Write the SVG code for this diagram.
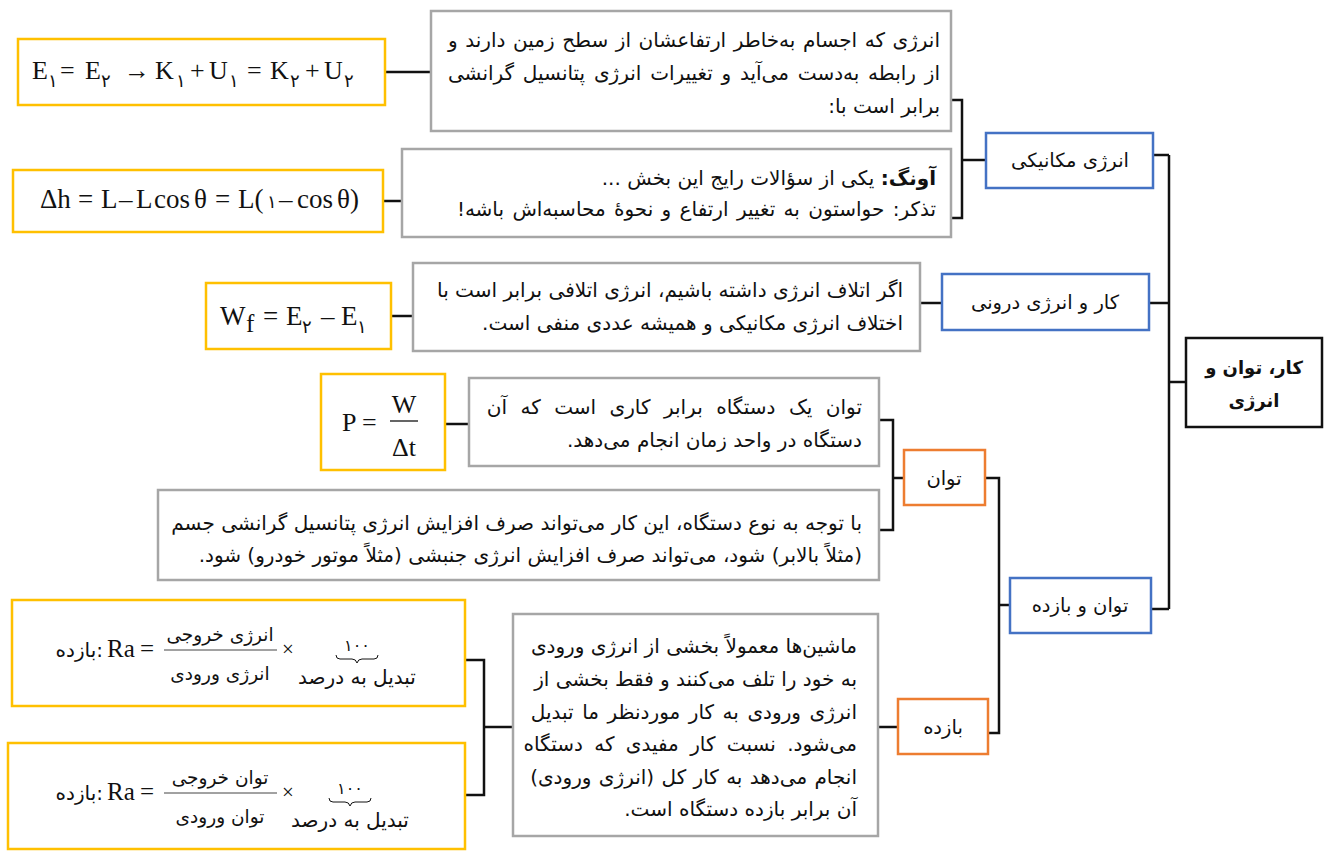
<svg xmlns="http://www.w3.org/2000/svg" width="1327" height="851" viewBox="0 0 1327 851">
<style>
.bg{fill:#fff}
.gray{fill:#fff;stroke:#a6a6a6;stroke-width:2.5}
.yel{fill:#fff;stroke:#ffc000;stroke-width:2.5}
.blue{fill:#fff;stroke:#4472c4;stroke-width:2.5}
.org{fill:#fff;stroke:#ed7d31;stroke-width:2.5}
.blk{fill:#fff;stroke:#111;stroke-width:2.5}
.fa{font-family:"DejaVu Sans",sans-serif;font-size:20px;fill:#111;direction:rtl}
.lab{font-family:"DejaVu Sans",sans-serif;font-size:19.5px;fill:#111;direction:rtl;text-anchor:middle}
.m{font-family:"Liberation Serif","Times New Roman",serif;font-size:26px;fill:#111}
.sub{font-family:"DejaVu Sans",sans-serif;font-size:18px;fill:#111}
.fr{font-family:"DejaVu Sans",sans-serif;font-size:18.5px;fill:#111;direction:rtl;text-anchor:middle}
#connectors path{fill:none;stroke:#111;stroke-width:2.5}
</style>
<rect class="bg" x="0" y="0" width="1327" height="851"/>

<g id="connectors">
<path d="M1169,155 V609"/>
<path d="M1153,155 H1169"/>
<path d="M1149,303 H1169"/>
<path d="M1186,382 H1169"/>
<path d="M1151,609 H1169"/>
<path d="M951,100 H962 V218 H951"/>
<path d="M962,160 H986"/>
<path d="M385,72 H431"/>
<path d="M383,201 H402"/>
<path d="M920,303 H942"/>
<path d="M391,316 H413"/>
<path d="M445,424 H469"/>
<path d="M879,420 H893 V530 H879"/>
<path d="M893,478 H904"/>
<path d="M985,478 H999 V733 H988"/>
<path d="M999,605 H1010"/>
<path d="M465,660 H484 V795 H465"/>
<path d="M484,727 H513"/>
<path d="M878,727 H898"/>
</g>

<g id="root">
<rect class="blk" x="1186" y="338" width="136" height="89"/>
<text class="lab" x="1254" y="374" style="font-weight:bold;font-size:18px">کار، توان و</text>
<text class="lab" x="1254" y="407" style="font-weight:bold;font-size:18px">انرژی</text>
</g>

<g id="mech">
<rect class="blue" x="986" y="133" width="167" height="55"/>
<text class="lab" x="1070" y="167">انرژی مکانیکی</text>
</g>

<g id="internal">
<rect class="blue" x="942" y="274" width="207" height="56"/>
<text class="lab" x="1045" y="309">کار و انرژی درونی</text>
</g>

<g id="power-eff">
<rect class="blue" x="1010" y="578" width="141" height="55"/>
<text class="lab" x="1080" y="612">توان و بازده</text>
</g>

<g id="power">
<rect class="org" x="904" y="450" width="81" height="55"/>
<text class="lab" x="944" y="485">توان</text>
</g>

<g id="eff">
<rect class="org" x="898" y="699" width="90" height="55"/>
<text class="lab" x="943" y="734">بازده</text>
</g>

<g id="text1">
<rect class="gray" x="431" y="11" width="520" height="120"/>
<text class="fa" x="940" y="47" word-spacing="1.2">انرژی که اجسام به‌خاطر ارتفاعشان از سطح زمین دارند و</text>
<text class="fa" x="940" y="80" word-spacing="2.4">از رابطه به‌دست می‌آید و تغییرات انرژی پتانسیل گرانشی</text>
<text class="fa" x="940" y="113">برابر است با:</text>
</g>

<g id="text2">
<rect class="gray" x="402" y="149" width="549" height="88"/>
<text class="fa" x="936" y="185"><tspan font-weight="bold">آونگ:</tspan> یکی از سؤالات رایج این بخش ...</text>
<text class="fa" x="936" y="216" word-spacing="2">تذکر: حواستون به تغییر ارتفاع و نحوهٔ محاسبه‌اش باشه!</text>
</g>

<g id="text3">
<rect class="gray" x="413" y="263" width="507" height="88"/>
<text class="fa" x="903" y="297">اگر اتلاف انرژی داشته باشیم، انرژی اتلافی برابر است با</text>
<text class="fa" x="903" y="330">اختلاف انرژی مکانیکی و همیشه عددی منفی است.</text>
</g>

<g id="text4">
<rect class="gray" x="469" y="378" width="410" height="88"/>
<text class="fa" x="862" y="414" word-spacing="7.1">توان یک دستگاه برابر کاری است که آن</text>
<text class="fa" x="862" y="447">دستگاه در واحد زمان انجام می‌دهد.</text>
</g>

<g id="text5">
<rect class="gray" x="158" y="490" width="721" height="90"/>
<text class="fa" x="862" y="530">با توجه به نوع دستگاه، این کار می‌تواند صرف افزایش انرژی پتانسیل گرانشی جسم</text>
<text class="fa" x="862" y="562">(مثلاً بالابر) شود، می‌تواند صرف افزایش انرژی جنبشی (مثلاً موتور خودرو) شود.</text>
</g>

<g id="text6">
<rect class="gray" x="513" y="614" width="365" height="222"/>
<text class="fa" x="857" y="653">ماشین‌ها معمولاً بخشی از انرژی ورودی</text>
<text class="fa" x="857" y="686">به خود را تلف می‌کنند و فقط بخشی از</text>
<text class="fa" x="857" y="719" word-spacing="2.2">انرژی ورودی به کار موردنظر ما تبدیل</text>
<text class="fa" x="857" y="751" word-spacing="5">می‌شود. نسبت کار مفیدی که دستگاه</text>
<text class="fa" x="857" y="784" word-spacing="1">انجام می‌دهد به کار کل (انرژی ورودی)</text>
<text class="fa" x="857" y="816">آن برابر بازده دستگاه است.</text>
</g>

<g id="f1">
<rect class="yel" x="18" y="39" width="367" height="66"/>
<text class="m" y="79"><tspan x="32">E</tspan><tspan x="60">=</tspan><tspan x="85">E</tspan><tspan x="124">→</tspan><tspan x="155">K</tspan><tspan x="190">+</tspan><tspan x="209">U</tspan><tspan x="247">=</tspan><tspan x="270">K</tspan><tspan x="305">+</tspan><tspan x="324">U</tspan></text>
<text class="sub" y="87"><tspan x="48">۱</tspan><tspan x="101">۲</tspan><tspan x="176">۱</tspan><tspan x="229">۱</tspan><tspan x="290">۲</tspan><tspan x="344">۲</tspan></text>
</g>

<g id="f2">
<rect class="yel" x="13" y="170" width="370" height="62"/>
<text class="m" y="208" style="font-size:27px"><tspan x="40">Δh</tspan><tspan x="78">=</tspan><tspan x="101">L</tspan><tspan x="119">–</tspan><tspan x="136">L</tspan><tspan x="154">cos</tspan><tspan x="194">θ</tspan><tspan x="215">=</tspan><tspan x="238">L(</tspan><tspan x="279">–</tspan><tspan x="297">cos</tspan><tspan x="337">θ)</tspan></text>
<text class="sub" x="267" y="208">۱</text>
</g>

<g id="f3">
<rect class="yel" x="206" y="283" width="185" height="66"/>
<text class="m" y="325" style="font-size:27px"><tspan x="220">W</tspan><tspan x="263">=</tspan><tspan x="286">E</tspan><tspan x="321">–</tspan><tspan x="341">E</tspan></text>
<text class="m" x="246" y="332" style="font-size:25px">f</text>
<text class="sub" y="333"><tspan x="302">۲</tspan><tspan x="357">۱</tspan></text>
</g>

<g id="f4">
<rect class="yel" x="321" y="374" width="124" height="96"/>
<text class="m" x="342" y="431">P</text>
<text class="m" x="362" y="431">=</text>
<text class="m" x="404" y="413" text-anchor="middle">W</text>
<path d="M390,421 H418" stroke="#111" stroke-width="1.3"/>
<text class="m" x="404" y="456" text-anchor="middle">Δt</text>
</g>

<g id="ra1">
<rect class="yel" x="12" y="600" width="453" height="106"/>
<text class="sub" x="103" y="657" text-anchor="end" style="font-size:20px">بازده:</text>
<text class="m" x="107" y="657" style="font-size:25px">Ra</text>
<text class="m" x="140" y="657" style="font-size:25px">=</text>
<text class="fr" x="220" y="641">انرژی خروجی</text>
<path d="M164,650 H277" stroke="#444" stroke-width="1"/>
<text class="fr" x="220" y="680">انرژی ورودی</text>
<text class="m" x="282" y="656" style="font-size:21px">×</text>
<text class="sub" x="357" y="651" text-anchor="middle" style="font-size:16px;letter-spacing:4px">۱۰۰</text>
<path d="M336,655 q0,4 4,4 h12 q4,0 5,4 q1,-4 5,-4 h12 q4,0 4,-4" fill="none" stroke="#111" stroke-width="1"/>
<text class="fr" x="357" y="684" style="font-size:20px">تبدیل به درصد</text>
</g>

<g id="ra2">
<rect class="yel" x="8" y="743" width="457" height="106"/>
<text class="sub" x="103" y="800" text-anchor="end" style="font-size:20px">بازده:</text>
<text class="m" x="107" y="800" style="font-size:25px">Ra</text>
<text class="m" x="140" y="800" style="font-size:25px">=</text>
<text class="fr" x="220" y="784">توان خروجی</text>
<path d="M164,793 H277" stroke="#444" stroke-width="1"/>
<text class="fr" x="220" y="823">توان ورودی</text>
<text class="m" x="282" y="799" style="font-size:21px">×</text>
<text class="sub" x="350" y="794" text-anchor="middle" style="font-size:16px;letter-spacing:4px">۱۰۰</text>
<path d="M329,798 q0,4 4,4 h12 q4,0 5,4 q1,-4 5,-4 h12 q4,0 4,-4" fill="none" stroke="#111" stroke-width="1"/>
<text class="fr" x="350" y="827" style="font-size:20px">تبدیل به درصد</text>
</g>
</svg>
